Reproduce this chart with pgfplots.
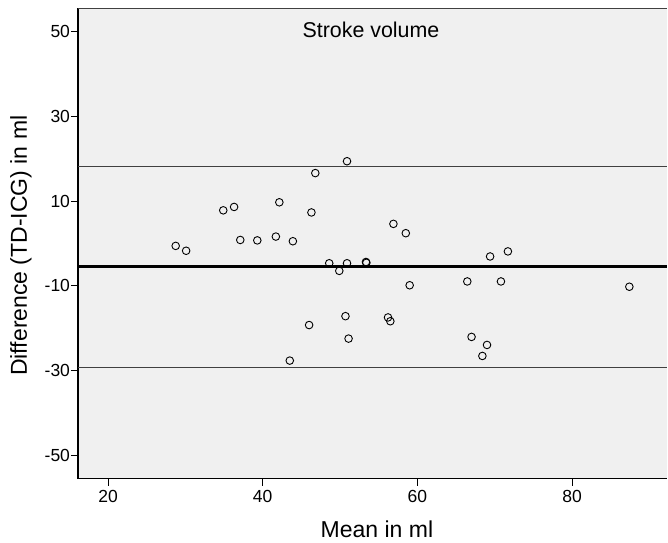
\documentclass[border=0pt]{standalone}
\usepackage{fontspec}
\setmainfont{Liberation Sans}
\usepackage{pgfplots}
\pgfplotsset{compat=1.18}
\definecolor{bg}{HTML}{F0F0F0}
\definecolor{lim}{HTML}{404040}
\begin{document}
\begin{tikzpicture}
\useasboundingbox (-78pt,-63.3pt) rectangle (590pt,478.7pt);
\begin{axis}[
  at={(0,0)}, anchor=south west,
  scale only axis, width=589pt, height=470.7pt,
  xmin=16.12, xmax=92.27, ymin=-55.6, ymax=55.6,
  axis background/.style={fill=bg},
  axis x line*=bottom, axis y line*=left,
  axis line style={black, line width=1.3pt, -},
  xtick={20,40,60,80}, ytick={-50,-30,-10,10,30,50},
  tick align=outside, major tick length=7pt,
  tick style={black, line width=0.9pt},
  /pgf/number format/assume math mode=true,
  ticklabel style={font=\fontsize{17.5}{19}\selectfont},
  xticklabel style={yshift=-1pt},
  yticklabel style={xshift=2.5pt},
  xlabel={Mean in ml}, ylabel={Difference (TD-ICG) in ml},
  every axis x label/.style={at={(axis description cs:0.5076,-0.1253)}, anchor=base, font=\fontsize{23}{26}\selectfont},
  every axis y label/.style={at={(axis description cs:-0.0866,0.495)}, anchor=base, rotate=90, font=\fontsize{23}{26}\selectfont},
  clip=false,
]
\addplot[lim, line width=0.9pt] coordinates {(16.12,18.1) (92.27,18.1)};
\addplot[black, line width=2.8pt] coordinates {(16.12,-5.53) (92.27,-5.53)};
\addplot[lim, line width=0.9pt] coordinates {(16.12,-29.2) (92.27,-29.2)};
\addplot[only marks, mark=o, mark size=3.8pt, mark options={black, line width=0.9pt}] coordinates {
(28.75,-0.6) (30.1,-1.75) (34.9,7.8) (36.3,8.6) (37.1,0.8) (39.3,0.7)
(41.7,1.6) (42.15,9.7) (43.9,0.5) (46.3,7.3) (46.8,16.6) (48.6,-4.7)
(49.9,-6.5) (50.9,19.4) (50.9,-4.7) (53.35,-4.4) (53.4,-4.6) (56.9,4.6)
(58.5,2.4) (69.4,-3.1) (71.7,-1.9) (59.0,-9.9) (66.45,-9.0) (70.8,-9.0)
(87.4,-10.25) (50.7,-17.2) (56.2,-17.5) (56.5,-18.4) (51.1,-22.5) (67.0,-22.1)
(69.0,-24.0) (68.4,-26.6) (46.0,-19.3) (43.5,-27.7)
};
\draw[lim, line width=0.9pt] (rel axis cs:0,1) -- (rel axis cs:1,1);
\node[anchor=base, font=\fontsize{21.4}{24}\selectfont] at (axis cs:54.0,48.7) {Stroke volume};
\end{axis}
\end{tikzpicture}
\end{document}
